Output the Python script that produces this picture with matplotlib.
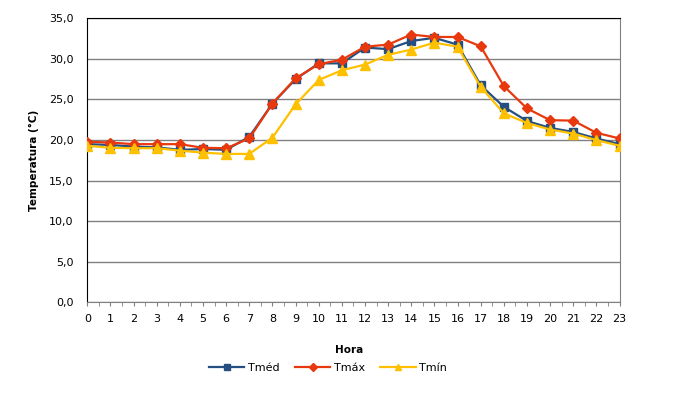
import matplotlib
matplotlib.use("Agg")
import matplotlib.pyplot as plt
from matplotlib.ticker import FuncFormatter, MultipleLocator

# hourly temperatures
hours = list(range(24))
t_med = [19.5, 19.4, 19.2, 19.1, 18.8, 18.9, 18.8, 20.4, 24.5, 27.5, 29.45, 29.45,
         31.4, 31.2, 32.2, 32.6, 31.75, 26.75, 24.1, 22.35, 21.5, 21.0, 20.2, 19.5]
t_max = [19.8, 19.7, 19.5, 19.5, 19.5, 19.05, 19.0, 20.2, 24.5, 27.6, 29.35, 29.9,
         31.5, 31.76, 33.0, 32.7, 32.7, 31.55, 26.65, 23.9, 22.45, 22.4, 20.9, 20.2]
t_min = [19.3, 19.05, 19.0, 19.0, 18.7, 18.45, 18.3, 18.3, 20.3, 24.4, 27.4, 28.6,
         29.3, 30.5, 31.15, 32.0, 31.5, 26.55, 23.3, 22.1, 21.3, 20.8, 20.0, 19.3]

plt.rcParams['font.family'] = ['DejaVu Sans']

fig = plt.figure(figsize=(6.79, 4.03), dpi=100)
ax = fig.add_axes([0.1286, 0.2494, 0.9124 - 0.1286, 0.9546 - 0.2494])

ax.plot(hours, t_med, color='#244f80', lw=1.6, marker='s', ms=6, label='Tméd', zorder=3)
ax.plot(hours, t_max, color='#e8390e', lw=1.6, marker='D', ms=5.5, label='Tmáx', zorder=4)
ax.plot(hours, t_min, color='#ffc000', lw=1.6, marker='^', ms=7, label='Tmín', zorder=5)

ax.set_xlim(0, 23)
ax.set_ylim(0, 35)
ax.set_xticks(hours)
ax.xaxis.set_minor_locator(MultipleLocator(0.5))
ax.yaxis.set_major_locator(MultipleLocator(5))
ax.yaxis.set_major_formatter(FuncFormatter(lambda v, p: f"{v:.1f}".replace('.', ',')))

ax.grid(axis='y', color='#808080', lw=1.0)
ax.set_axisbelow(True)
for side in ['left', 'top']:
    ax.spines[side].set_color('black')
for side in ['right', 'bottom']:
    ax.spines[side].set_color('#808080')

ax.tick_params(axis='x', which='both', length=3, color='#808080', labelsize=8, pad=5)
ax.tick_params(axis='y', length=0, labelsize=8, pad=10)

fig.text(349 / 679, 1 - 350 / 403, 'Hora', ha='center', va='center',
         fontsize=7.5, fontweight='bold')
fig.text(33.5 / 679, 0.5 * (0.2494 + 0.9546), 'Temperatura (°C)', ha='center', va='center',
         rotation=90, fontsize=7.5, fontweight='bold')

fig.legend(loc='center', bbox_to_anchor=(328 / 679, 1 - 368 / 403), ncol=3,
           frameon=False, fontsize=8, handlelength=3.2, handletextpad=0.3, columnspacing=1.4,
           markerscale=0.7)

fig.savefig('out.png', dpi=100)
